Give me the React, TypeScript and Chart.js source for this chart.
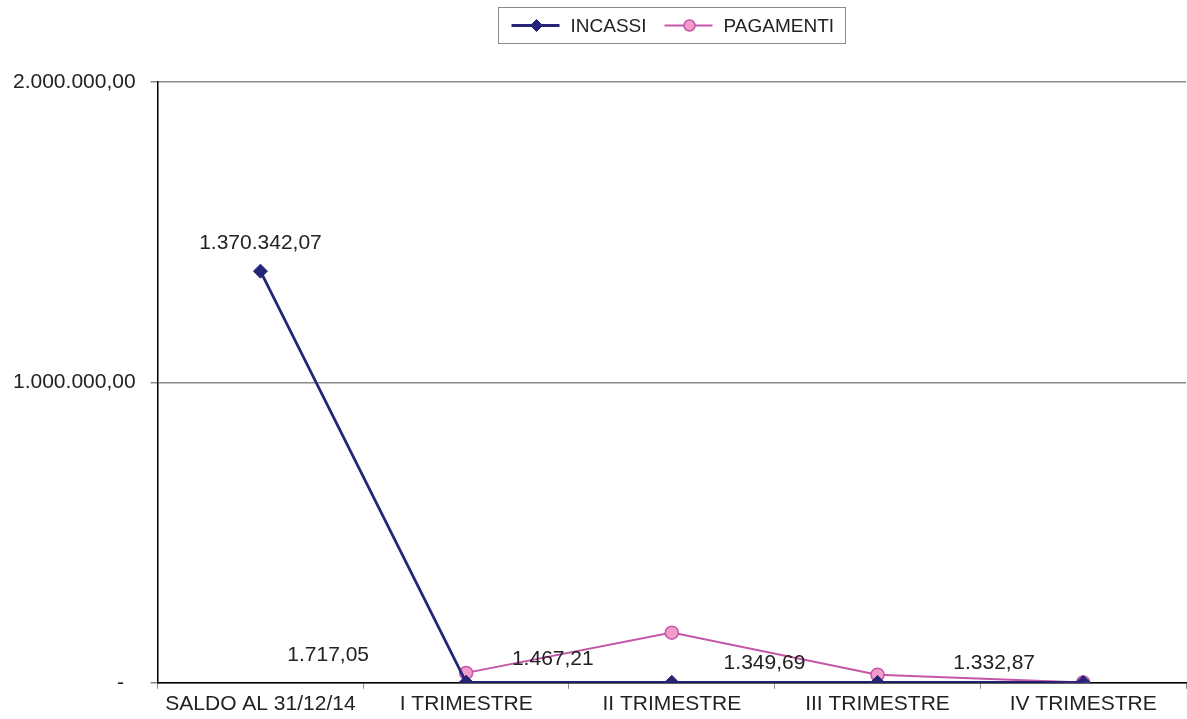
import React, { useEffect, useRef } from "react";
import { Chart, registerables } from "chart.js";

Chart.register(...registerables);

const categories = ["SALDO AL 31/12/14", "I TRIMESTRE", "II TRIMESTRE", "III TRIMESTRE", "IV TRIMESTRE"];
const incassi = [1370342.07, 1717.05, 1467.21, 1349.69, 1332.87];
const pagamenti = [null, 33000, 167000, 27000, 1000];
const yTicks = [0, 1000000, 2000000];

// label layout offsets (pixels) for the INCASSI value labels
const labelOffsets = [
  [0, -28],
  [-138, -27],
  [-119, -23],
  [-113, -19],
  [-89, -19],
];

const NAVY = "#252577";
const MAGENTA = "#c455a8";
const PINK = "#f39cc9";
const FONT = "'Liberation Sans', Arial, sans-serif";

function fmtIt(v: number): string {
  if (v === 0) return "-  ";
  const neg = v < 0;
  const a = Math.abs(v);
  const fixed = a.toFixed(2);
  const [int, dec] = fixed.split(".");
  const withDots = int.replace(/\B(?=(\d{3})+(?!\d))/g, ".");
  return (neg ? "-" : "") + withDots + "," + dec;
}

const legendPlugin = {
  id: "boxLegend",
  afterDraw(chart: any) {
    const ctx = chart.ctx;
    const ca = chart.chartArea;
    const cx = (ca.left + ca.right) / 2;
    const w = 347;
    const h = 36;
    const x0 = Math.round(cx - w / 2) + 0.5;
    const y0 = 7.5;
    ctx.save();
    ctx.strokeStyle = "#8a8a8a";
    ctx.lineWidth = 1;
    ctx.strokeRect(x0, y0, w, h);
    const cy = y0 + h / 2;
    const items = chart.data.datasets;
    let x = x0 + 13;
    ctx.font = `19px ${FONT}`;
    ctx.textBaseline = "middle";
    items.forEach((ds: any) => {
      ctx.strokeStyle = ds.borderColor;
      ctx.lineWidth = ds.borderWidth;
      ctx.beginPath();
      ctx.moveTo(x, cy);
      ctx.lineTo(x + 48, cy);
      ctx.stroke();
      const mx = x + 25;
      ctx.fillStyle = ds.pointBackgroundColor;
      ctx.strokeStyle = ds.pointBorderColor;
      ctx.lineWidth = ds.pointBorderWidth;
      ctx.beginPath();
      if (ds.pointStyle === "rectRot") {
        const r = 6;
        ctx.moveTo(mx, cy - r);
        ctx.lineTo(mx + r, cy);
        ctx.lineTo(mx, cy + r);
        ctx.lineTo(mx - r, cy);
        ctx.closePath();
      } else {
        ctx.arc(mx, cy, 5.5, 0, Math.PI * 2);
      }
      ctx.fill();
      ctx.stroke();
      ctx.fillStyle = "#222";
      ctx.textAlign = "left";
      ctx.fillText(ds.label, x + 59, cy + 1);
      x += 59 + ctx.measureText(ds.label).width + 18;
    });
    ctx.restore();
  },
};

const valueLabelPlugin = {
  id: "valueLabels",
  afterDatasetsDraw(chart: any) {
    const ctx = chart.ctx;
    const meta = chart.getDatasetMeta(0);
    ctx.save();
    ctx.font = `21px ${FONT}`;
    ctx.fillStyle = "#222";
    ctx.textAlign = "center";
    ctx.textBaseline = "middle";
    meta.data.forEach((pt: any, i: number) => {
      const v = incassi[i];
      const off = labelOffsets[i];
      ctx.fillText(fmtIt(v), pt.x + off[0], pt.y + off[1]);
    });
    ctx.restore();
  },
};

export default function App() {
  const ref = useRef<HTMLCanvasElement>(null);
  useEffect(() => {
    document.body.style.margin = "0";
    document.body.style.overflow = "hidden";
    const chart = new Chart(ref.current!, {
      type: "line",
      data: {
        labels: categories,
        datasets: [
          {
            label: "INCASSI",
            data: incassi,
            borderColor: NAVY,
            borderWidth: 2.8,
            pointStyle: "rectRot",
            pointRadius: 7,
            pointBackgroundColor: NAVY,
            pointBorderColor: NAVY,
            pointBorderWidth: 1,
            tension: 0,
          },
          {
            label: "PAGAMENTI",
            data: pagamenti,
            borderColor: MAGENTA,
            borderWidth: 2,
            pointStyle: "circle",
            pointRadius: 6.5,
            pointBackgroundColor: PINK,
            pointBorderColor: MAGENTA,
            pointBorderWidth: 1.5,
            tension: 0,
            spanGaps: false,
          },
        ],
      },
      options: {
        responsive: false,
        animation: false,
        layout: { padding: { top: 82, left: 0, right: 0, bottom: 0 } },
        plugins: {
          legend: { display: false },
          tooltip: { enabled: false },
        },
        scales: {
          x: {
            offset: true,
            grid: {
              offset: true,
              drawOnChartArea: false,
              drawTicks: true,
              tickLength: 6,
              color: "#8a8a8a",
            },
            border: { color: "#000", width: 1.5 },
            ticks: {
              color: "#222",
              font: { family: FONT, size: 21 },
              padding: 2.5,
              maxRotation: 0,
            },
          },
          y: {
            min: 0,
            max: 2000000,
            afterBuildTicks(axis: any) {
              axis.ticks = yTicks.map((v) => ({ value: v }));
            },
            grid: {
              color: "#8a8a8a",
              lineWidth: 1.5,
              tickLength: 7,
            },
            border: { color: "#000", width: 1.5 },
            ticks: {
              color: "#222",
              font: { family: FONT, size: 21 },
              padding: 15,
              callback: (v: any) => fmtIt(Number(v)),
            },
          },
        },
      },
      plugins: [legendPlugin, valueLabelPlugin],
    });
    return () => chart.destroy();
  }, []);
  return (
    <div style={{ width: 1187, height: 719, overflow: "hidden" }}>
      <canvas ref={ref} width={1196} height={719} style={{ display: "block", marginLeft: -2 }} />
    </div>
  );
}
